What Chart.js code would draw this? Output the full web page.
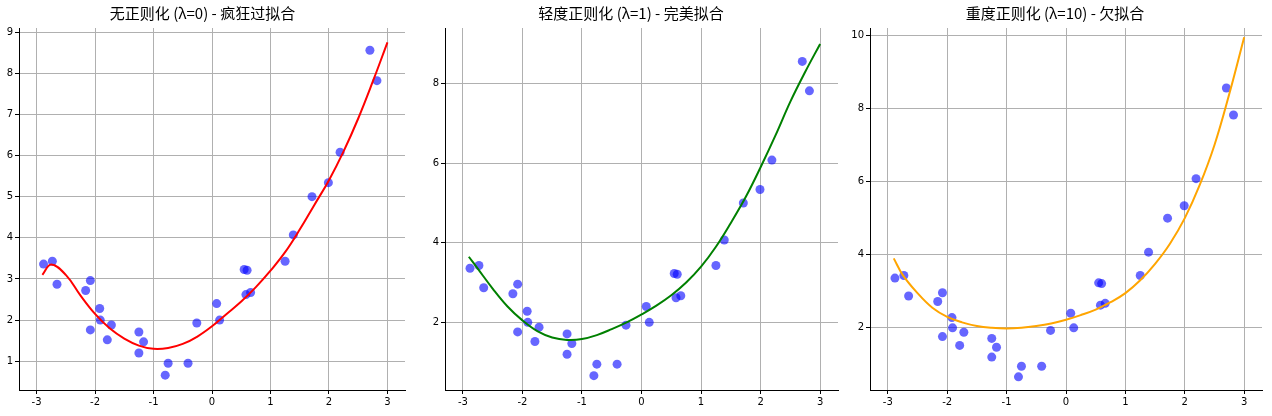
<!DOCTYPE html>
<html>
<head>
<meta charset="utf-8">
<script src="https://cdn.jsdelivr.net/npm/chart.js@4/dist/chart.umd.min.js"></script>
<style>
  body { margin: 0; background: #fff; }
  .panel { position: absolute; top: 0; height: 416px; }
</style>
</head>
<body>
<div class="panel" style="left:0;width:424px"><canvas id="c0"></canvas></div>
<div class="panel" style="left:424px;width:424px"><canvas id="c1"></canvas></div>
<div class="panel" style="left:848px;width:424px"><canvas id="c2"></canvas></div>
<script>
const pointX = [-2.88, -2.73, -2.65, -2.16, -2.08, -2.08, -1.92, -1.91, -1.79, -1.72, -1.25, -1.25, -1.17, -0.75, -0.80,
    -0.41, -0.26, 0.08, 0.13, 0.55, 0.60, 0.58, 0.66, 1.25, 1.39, 1.71, 1.99, 2.19, 2.70, 2.82];
const pointY = [3.36, 3.43, 2.87, 2.72, 2.96, 1.76, 2.28, 2.0, 1.52, 1.88, 1.71, 1.2, 1.47, 0.95, 0.66,
    0.95, 1.93, 2.40, 2.0, 3.23, 3.21, 2.62, 2.67, 3.43, 4.07, 5.0, 5.34, 6.08, 8.56, 7.82];

const curveX = [-2.9, -2.75, -2.5, -2.25, -2, -1.75, -1.5, -1.25, -1, -0.75, -0.5, -0.25, 0, 0.25, 0.5, 0.75, 1, 1.25, 1.5, 1.75, 2, 2.25, 2.5, 2.75, 3];
const curveNone = [3.1, 3.35, 3.1, 2.6, 2.15, 1.8, 1.55, 1.38, 1.3, 1.32, 1.42, 1.6, 1.85, 2.15, 2.45, 2.8, 3.2, 3.65, 4.2, 4.8, 5.4, 6.1, 6.9, 7.8, 8.75];
const curveLight = [3.65, 3.35, 2.85, 2.4, 2.05, 1.78, 1.62, 1.56, 1.58, 1.68, 1.83, 2.0, 2.2, 2.42, 2.68, 3.0, 3.4, 3.9, 4.5, 5.15, 5.9, 6.7, 7.55, 8.3, 9.0];
const curveHeavy = [3.9, 3.45, 2.95, 2.55, 2.3, 2.15, 2.05, 2.0, 1.98, 2.0, 2.05, 2.12, 2.22, 2.35, 2.5, 2.7, 2.95, 3.3, 3.75, 4.3, 5.0, 5.9, 7.0, 8.4, 9.95];

const titles = ['无正则化 (λ=0) - 疯狂过拟合', '轻度正则化 (λ=1) - 完美拟合', '重度正则化 (λ=10) - 欠拟合'];
const curves = [curveNone, curveLight, curveHeavy];
const colors = ['#ff0000', '#008000', '#ffa500'];
const yRanges = [[0.3, 9.1, 1], [0.3, 9.4, 2], [0.3, 10.2, 2]];
const yWidths = [19, 21, 22];
const rightPads = [19, 10, 10];

function toXY(xs, ys) {
    return xs.map((x, i) => ({ x: x, y: ys[i] }));
}

curves.forEach((curve, k) => {
    const [ymin, ymax, ystep] = yRanges[k];
    new Chart(document.getElementById('c' + k), {
        type: 'scatter',
        data: {
            datasets: [
                {
                    type: 'line',
                    data: toXY(curveX, curve),
                    borderColor: colors[k],
                    borderWidth: 2,
                    pointRadius: 0,
                    fill: false,
                    tension: 0.4,
                    order: 1
                },
                {
                    data: toXY(pointX, pointY),
                    backgroundColor: 'rgba(0, 0, 255, 0.6)',
                    borderWidth: 0,
                    pointRadius: 4.5,
                    order: 2
                }
            ]
        },
        options: {
            responsive: true,
            maintainAspectRatio: false,
            animation: false,
            layout: { padding: { left: 0, right: rightPads[k], top: 0, bottom: 0 } },
            plugins: {
                legend: { display: false },
                tooltip: { enabled: false },
                title: {
                    display: true,
                    text: titles[k],
                    color: '#000',
                    font: { family: "'Noto Sans CJK SC', sans-serif", size: 15, weight: 'normal' },
                    padding: { top: 4, bottom: 6 }
                }
            },
            scales: {
                x: {
                    type: 'linear',
                    min: -3.3,
                    max: 3.3,
                    afterFit: (s) => { s.height = 26; },
                    afterBuildTicks: (s) => { s.ticks = [-3, -2, -1, 0, 1, 2, 3].map(v => ({ value: v })); },
                    grid: { color: '#b0b0b0', tickLength: 4, tickColor: '#000' },
                    border: { color: '#000' },
                    ticks: { color: '#000', font: { family: 'DejaVu Sans', size: 10 }, padding: 2 }
                },
                y: {
                    min: ymin,
                    max: ymax,
                    afterFit: (s) => { s.width = yWidths[k]; },
                    afterBuildTicks: (s) => {
                        const t = [];
                        for (let v = Math.ceil(ymin / ystep) * ystep; v <= ymax; v += ystep) t.push({ value: v });
                        s.ticks = t;
                    },
                    grid: { color: '#b0b0b0', tickLength: 4, tickColor: '#000' },
                    border: { color: '#000' },
                    ticks: { color: '#000', font: { family: 'DejaVu Sans', size: 10 }, padding: 2 }
                }
            }
        }
    });
});
</script>
</body>
</html>
